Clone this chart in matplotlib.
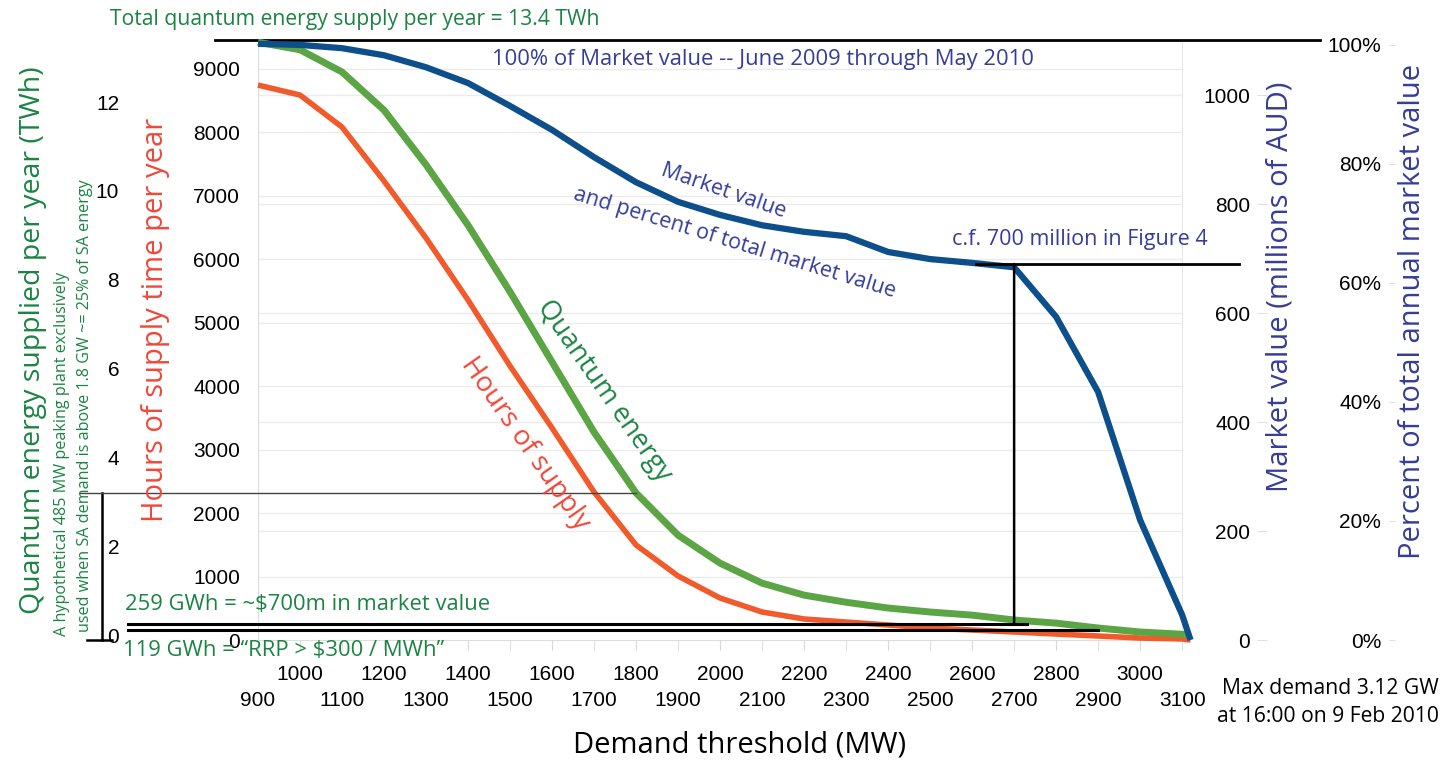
import matplotlib.pyplot as plt
from matplotlib.patches import ConnectionPatch
from matplotlib.transforms import blended_transform_factory

# demand threshold (MW) and what is supplied above it
demand = [900, 1000, 1100, 1200, 1300, 1400, 1500, 1600, 1700, 1800, 1900, 2000,
          2100, 2200, 2300, 2400, 2500, 2600, 2700, 2800, 2900, 3000, 3100, 3120]
hours = [8740, 8583, 8079, 7228, 6331, 5354, 4315, 3339, 2331, 1496, 1008, 661,
         441, 331, 283, 236, 189, 157, 126, 94, 63, 31, 16, 0]
energy_twh = [13.35, 13.18, 12.68, 11.82, 10.59, 9.23, 7.73, 6.15, 4.57, 3.2, 2.25, 1.62,
              1.17, 0.90, 0.74, 0.61, 0.52, 0.45, 0.34, 0.27, 0.16, 0.07, 0.02, 0.0]
market_m = [1094, 1092, 1086, 1073, 1051, 1022, 980, 936, 886, 840, 804, 780,
            761, 749, 741, 712, 699, 692, 684, 593, 455, 220, 46, 0]

total_twh = 13.4
gwh_700m = 0.259
gwh_rrp300 = 0.119
cf_700m = 690
peak_threshold = 1800

hour_ticks = list(range(0, 9001, 1000))
twh_ticks = [0, 2, 4, 6, 8, 10, 12]
market_ticks = [0, 200, 400, 600, 800, 1000]
pct_ticks = [0, 20, 40, 60, 80, 100]
x_even = list(range(1000, 3001, 200))
x_odd = list(range(900, 3101, 200))

RED = '#f15a2b'
GREEN = '#5ba545'
BLUE = '#0c4f8b'
NAVY = '#373c98'
GTXT = '#1b8443'
RTXT = '#f0483a'
GRID = '#ebebeb'
SANS = 'Open Sans'

plt.rcParams['font.family'] = ['Liberation Sans', 'DejaVu Sans']

W_PX, H_PX = 1445, 763
def fx(x):
    return x / W_PX
def fy(y):
    return 1 - y / H_PX

fig = plt.figure(figsize=(14.45, 7.63), dpi=100)
ax = fig.add_axes([fx(258), fy(640), 925 / W_PX, 600 / H_PX])
XLIM = (900, 3102)
ax.set_xlim(*XLIM)
ax.set_ylim(0, 9450)

# hours axis (inner left)
ax.set_yticks(hour_ticks)
ax.tick_params(axis='y', length=0, pad=13, labelsize=15)
for s in ['top', 'right']:
    ax.spines[s].set_visible(False)
for s in ['left', 'bottom']:
    ax.spines[s].set_color('#dddddd')
ax.axvline(XLIM[1], color='#e4e4e4', lw=2)

# two staggered rows of x labels
ax.set_xticks(x_even, [str(v) for v in x_even])
ax.set_xticks(x_odd, [str(v) for v in x_odd], minor=True)
ax.tick_params(axis='x', which='major', length=7, color='#d9d9d9', pad=11, labelsize=15)
ax.tick_params(axis='x', which='minor', length=7, color='#d9d9d9', pad=30, labelsize=15)

# gridlines
for h in hour_ticks[1:]:
    ax.axhline(h, color=GRID, lw=1, zorder=0)

ax.plot(demand, hours, color=RED, lw=4, solid_capstyle='butt', zorder=3, clip_on=False)

# quantum energy axis (outer left)
axq = ax.twinx()
axq.set_ylim(-0.11, 13.4)
axq.yaxis.tick_left()
axq.spines['left'].set_position(('axes', -0.147))
for s in axq.spines.values():
    s.set_visible(False)
axq.set_yticks(twh_ticks)
axq.tick_params(axis='y', length=0, pad=2, labelsize=15)

# market value axis
axm = ax.twinx()
axm.set_ylim(0, 1101)
axm.yaxis.tick_left()
axm.spines['left'].set_position(('axes', 1.0908))
for s in axm.spines.values():
    s.set_visible(False)
axm.set_yticks(market_ticks)
axm.tick_params(axis='y', length=7, color='#e0e0e0', pad=5, labelsize=15)

grid_tr = blended_transform_factory(ax.transAxes, axm.transData)
for m in market_ticks[1:]:
    ax.plot([0, 1], [m, m], transform=grid_tr, color=GRID, lw=1, zorder=0)

# percent axis
axp = ax.twinx()
axp.set_ylim(0.83, 100.83)
axp.yaxis.tick_left()
axp.spines['left'].set_position(('axes', 1.2292))
for s in axp.spines.values():
    s.set_visible(False)
axp.set_yticks(pct_ticks, [f'{p}%' for p in pct_ticks])
axp.tick_params(axis='y', length=4, color='#e0e0e0', pad=6, labelsize=15)

axq.plot(demand, energy_twh, color=GREEN, lw=5, solid_capstyle='butt', zorder=3, clip_on=False)
axm.plot(demand, market_m, color=BLUE, lw=4.5, solid_capstyle='butt', zorder=3, clip_on=False)

# reference lines
axq.plot([797, 3428], [total_twh, total_twh], color='black', lw=2, clip_on=False)
axq.plot([590, 2730], [gwh_700m, gwh_700m], color='black', lw=2.2, clip_on=False, zorder=5)
axq.plot([590, 2900], [gwh_rrp300, gwh_rrp300], color='black', lw=2.2, clip_on=False, zorder=5)
e1800 = energy_twh[demand.index(peak_threshold)]
axq.plot([476, peak_threshold], [e1800, e1800], color='#444444', lw=1, clip_on=False, zorder=5)
axq.plot([529, 529], [-0.11, e1800], color='black', lw=1.8, clip_on=False)
axq.plot([493, 552], [-0.11, -0.11], color='black', lw=1.8, clip_on=False)
axm.plot([2610, 3236], [cf_700m, cf_700m], color='black', lw=2, clip_on=False, zorder=5)
con = ConnectionPatch(xyA=(2700, cf_700m), coordsA=axm.transData,
                      xyB=(2700, gwh_700m), coordsB=axq.transData,
                      color='black', lw=1.8, zorder=6)
fig.add_artist(con)

# text
def label(x, y, s, color, size, rot=0, ha='center', va='center', family=SANS):
    fig.text(fx(x), fy(y), s, color=color, fontsize=size, rotation=rot,
             ha=ha, va=va, family=family, rotation_mode='anchor' if rot not in (0, 90) else 'default')

label(110, 20, 'Total quantum energy supply per year = 13.4 TWh', GTXT, 15.2, ha='left')
label(492, 60, '100% of Market value -- June 2009 through May 2010', NAVY, 15.8, ha='left')
label(952, 240, 'c.f. 700 million in Figure 4', NAVY, 15.5, ha='left')
label(125, 605, '259 GWh = ~$700m in market value', GTXT, 15.8, ha='left')
label(123, 651, '119 GWh = \u201cRRP > $300 / MWh\u201d', GTXT, 15.8, ha='left')
label(1330, 688, 'Max demand 3.12 GW', 'black', 15.2)
label(1328, 717, 'at 16:00 on 9 Feb 2010', 'black', 15.2)
label(740, 745, 'Demand threshold (MW)', 'black', 21)

label(33, 340, 'Quantum energy supplied per year (TWh)', GTXT, 20.5, rot=90)
label(62, 636, 'A hypothetical 485 MW peaking plant exclusively', GTXT, 11.6, rot=90, va='bottom')
label(85, 632, 'used when SA demand is above 1.8 GW ~= 25% of SA energy', GTXT, 11.6, rot=90, va='bottom')
label(155, 320, 'Hours of supply time per year', RTXT, 21, rot=90)
label(1280, 287, 'Market value (millions of AUD)', NAVY, 21, rot=90)
label(1413, 311, 'Percent of total annual market value', NAVY, 21, rot=90)

label(525, 444, 'Hours of supply', RTXT, 20, rot=-55)
label(604, 391, 'Quantum energy', GTXT, 19.5, rot=-55)
label(724, 191, 'Market value', NAVY, 15.5, rot=-19)
label(735, 243, 'and percent of total market value', NAVY, 15.5, rot=-17)

fig.savefig('out.png', dpi=100, facecolor='white')
